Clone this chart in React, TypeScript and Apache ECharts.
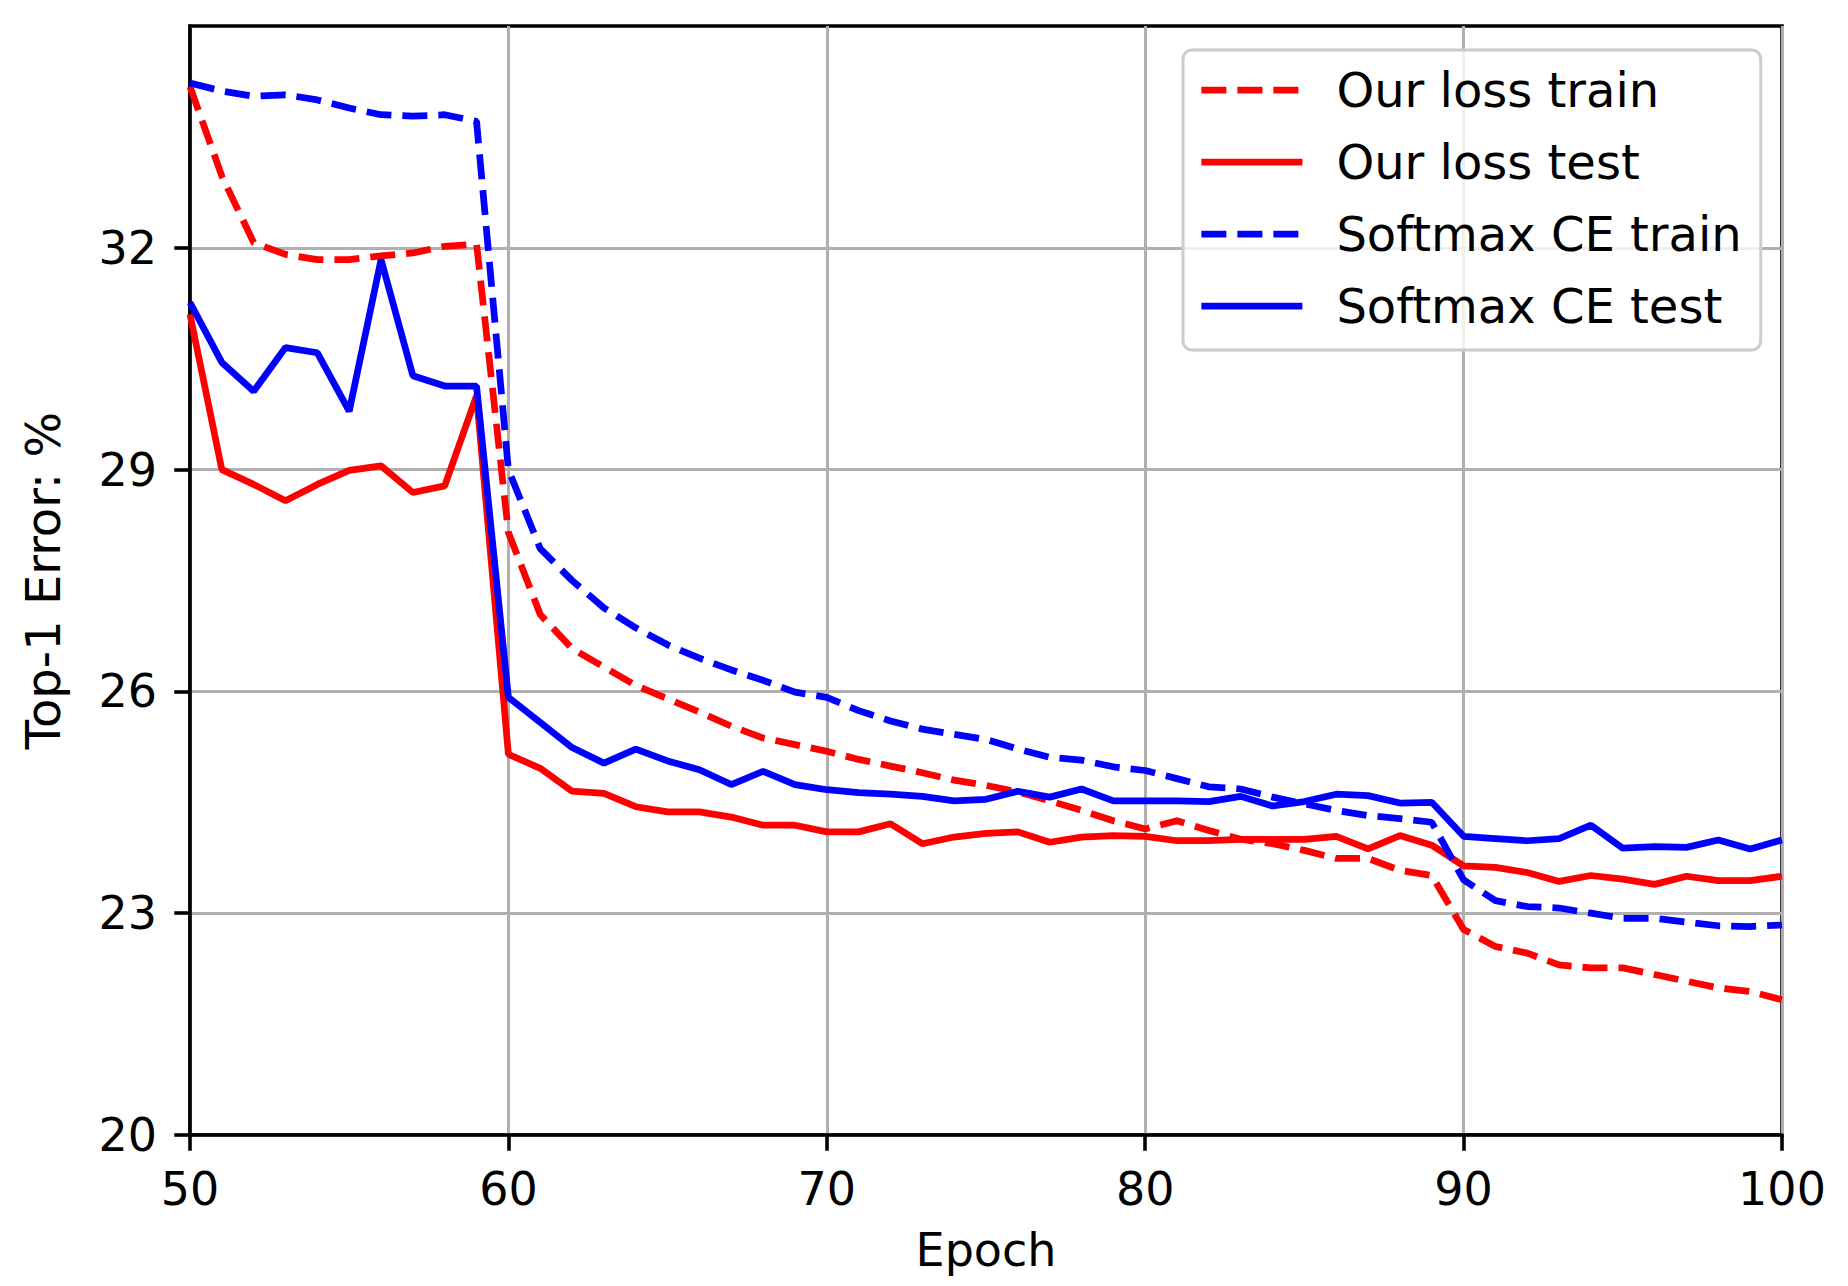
import React, { useEffect, useRef } from "react";
import * as echarts from "echarts";

const epochs: number[] = Array.from({ length: 51 }, (_, i) => 50 + i);

const ourLossTrain: number[] = [
  34.18, 32.97, 32.07, 31.91, 31.84, 31.84, 31.89, 31.93, 32.02, 32.05,
  28.15, 27.04, 26.58, 26.33, 26.08, 25.9, 25.72, 25.53, 25.37, 25.28,
  25.19, 25.08, 24.99, 24.9, 24.8, 24.73, 24.64, 24.52, 24.39, 24.25,
  24.14, 24.25, 24.12, 24.0, 23.94, 23.85, 23.74, 23.74, 23.58, 23.51,
  22.78, 22.55, 22.46, 22.3, 22.26, 22.26, 22.17, 22.08, 21.99, 21.94,
  21.83,
];

const ourLossTest: number[] = [
  31.1, 29.0, 28.8, 28.58, 28.8, 28.99, 29.05, 28.69, 28.78, 30.0,
  25.15, 24.96, 24.65, 24.62, 24.44, 24.37, 24.37, 24.3, 24.19, 24.19,
  24.1, 24.1, 24.21, 23.94, 24.03, 24.08, 24.1, 23.96, 24.03, 24.05,
  24.04, 23.98, 23.98, 24.0, 24.0, 24.0, 24.04, 23.87, 24.05, 23.92,
  23.64, 23.62, 23.55, 23.43, 23.51, 23.46, 23.39, 23.5, 23.44, 23.44,
  23.5,
];

const softmaxTrain: number[] = [
  34.23, 34.12, 34.05, 34.07, 34.0, 33.89, 33.8, 33.78, 33.8, 33.71,
  29.0, 27.93, 27.5, 27.13, 26.86, 26.63, 26.45, 26.29, 26.15, 25.99,
  25.92, 25.74, 25.6, 25.49, 25.42, 25.35, 25.22, 25.11, 25.07, 24.98,
  24.93, 24.82, 24.71, 24.68, 24.57, 24.48, 24.39, 24.32, 24.28, 24.23,
  23.45, 23.17, 23.09, 23.07, 23.0, 22.93, 22.93, 22.88, 22.83, 22.82,
  22.84,
];

const softmaxTest: number[] = [
  31.26, 30.45, 30.06, 30.65, 30.58, 29.79, 31.84, 30.27, 30.13, 30.13,
  25.92, 25.58, 25.24, 25.03, 25.22, 25.06, 24.94, 24.74, 24.92, 24.74,
  24.67, 24.63, 24.61, 24.58, 24.52, 24.54, 24.65, 24.57, 24.68, 24.52,
  24.52, 24.52, 24.51, 24.58, 24.45, 24.51, 24.61, 24.59, 24.49, 24.5,
  24.04, 24.01, 23.98, 24.01, 24.19, 23.88, 23.9, 23.89, 23.99, 23.87,
  23.99,
];

const seriesNames: string[] = [
  "Our loss train",
  "Our loss test",
  "Softmax CE train",
  "Softmax CE test",
];

const yTicks: number[] = [20, 23, 26, 29, 32];
const xTicks: number[] = [50, 60, 70, 80, 90, 100];

const FONT = "'DejaVu Sans', sans-serif";
const FS = 46;
const FS_LEG = 48;
const LW = 6.75;
const DASH = [25, 11];

export default function App() {
  const ref = useRef<HTMLDivElement>(null);

  useEffect(() => {
    if (!ref.current) return;
    const chart = echarts.init(ref.current, undefined, { renderer: "svg" });

    const mk = (name: string, vals: number[], color: string, dashed: boolean) => ({
      name,
      type: "line",
      data: epochs.map((e, i) => [e, vals[i]]),
      showSymbol: false,
      symbol: "none",
      color,
      lineStyle: { color, width: LW, type: dashed ? DASH : "solid" },
      z: 2,
    });

    const legendItem = (name: string, color: string, dashed: boolean) => ({
      name,
      lineStyle: { color, width: LW, type: dashed ? DASH : "solid" },
    });

    chart.setOption({
      animation: false,
      backgroundColor: "#ffffff",
      textStyle: { fontFamily: FONT },
      grid: {
        left: 190,
        right: 66,
        top: 26,
        bottom: 151,
        show: true,
        borderColor: "#000000",
        borderWidth: 3.6,
        backgroundColor: "transparent",
      },
      legend: {
        orient: "vertical",
        left: 1183,
        top: 50,
        padding: [16, 19, 20, 15],
        itemWidth: 101,
        itemHeight: 46,
        itemGap: 24,
        backgroundColor: "rgba(255,255,255,0.8)",
        borderColor: "#cccccc",
        borderWidth: 3,
        borderRadius: 9,
        itemStyle: { opacity: 0 },
        lineStyle: { width: LW },
        textStyle: {
          fontFamily: FONT,
          fontSize: FS_LEG,
          color: "#000000",
          padding: [0, 0, 0, 29],
          lineHeight: 46,
        },
        data: [
          legendItem(seriesNames[0], "#ff0000", true),
          legendItem(seriesNames[1], "#ff0000", false),
          legendItem(seriesNames[2], "#0000ff", true),
          legendItem(seriesNames[3], "#0000ff", false),
        ],
      },
      xAxis: {
        type: "value",
        min: 50,
        max: 100,
        interval: 10,
        name: "Epoch",
        nameLocation: "middle",
        nameGap: 92,
        nameTextStyle: { fontFamily: FONT, fontSize: FS, color: "#000000" },
        axisLine: { show: true, lineStyle: { color: "#000000", width: 3.6 } },
        axisTick: {
          show: true,
          inside: false,
          length: 15.75,
          lineStyle: { color: "#000000", width: 3.6 },
          customValues: xTicks,
        },
        axisLabel: {
          margin: 31,
          fontFamily: FONT,
          fontSize: FS,
          color: "#000000",
          customValues: xTicks,
        },
        splitLine: { show: true, lineStyle: { color: "#b0b0b0", width: 3 } },
      },
      yAxis: {
        type: "value",
        min: 20,
        max: 35,
        interval: 3,
        name: "Top-1 Error: %",
        nameLocation: "middle",
        nameGap: 123,
        nameTextStyle: { fontFamily: FONT, fontSize: 48, color: "#000000" },
        axisLine: { show: true, lineStyle: { color: "#000000", width: 3.6 } },
        axisTick: {
          show: true,
          inside: false,
          length: 15.75,
          lineStyle: { color: "#000000", width: 3.6 },
          customValues: yTicks,
        },
        axisLabel: {
          margin: 33,
          fontFamily: FONT,
          fontSize: FS,
          color: "#000000",
          customValues: yTicks,
        },
        splitLine: { show: true, lineStyle: { color: "#b0b0b0", width: 3 } },
      },
      series: [
        mk(seriesNames[0], ourLossTrain, "#ff0000", true),
        mk(seriesNames[1], ourLossTest, "#ff0000", false),
        mk(seriesNames[2], softmaxTrain, "#0000ff", true),
        mk(seriesNames[3], softmaxTest, "#0000ff", false),
      ],
    });

    return () => chart.dispose();
  }, []);

  return (
    <div
      ref={ref}
      style={{ position: "absolute", left: 0, top: 0, width: 1848, height: 1286 }}
    />
  );
}
